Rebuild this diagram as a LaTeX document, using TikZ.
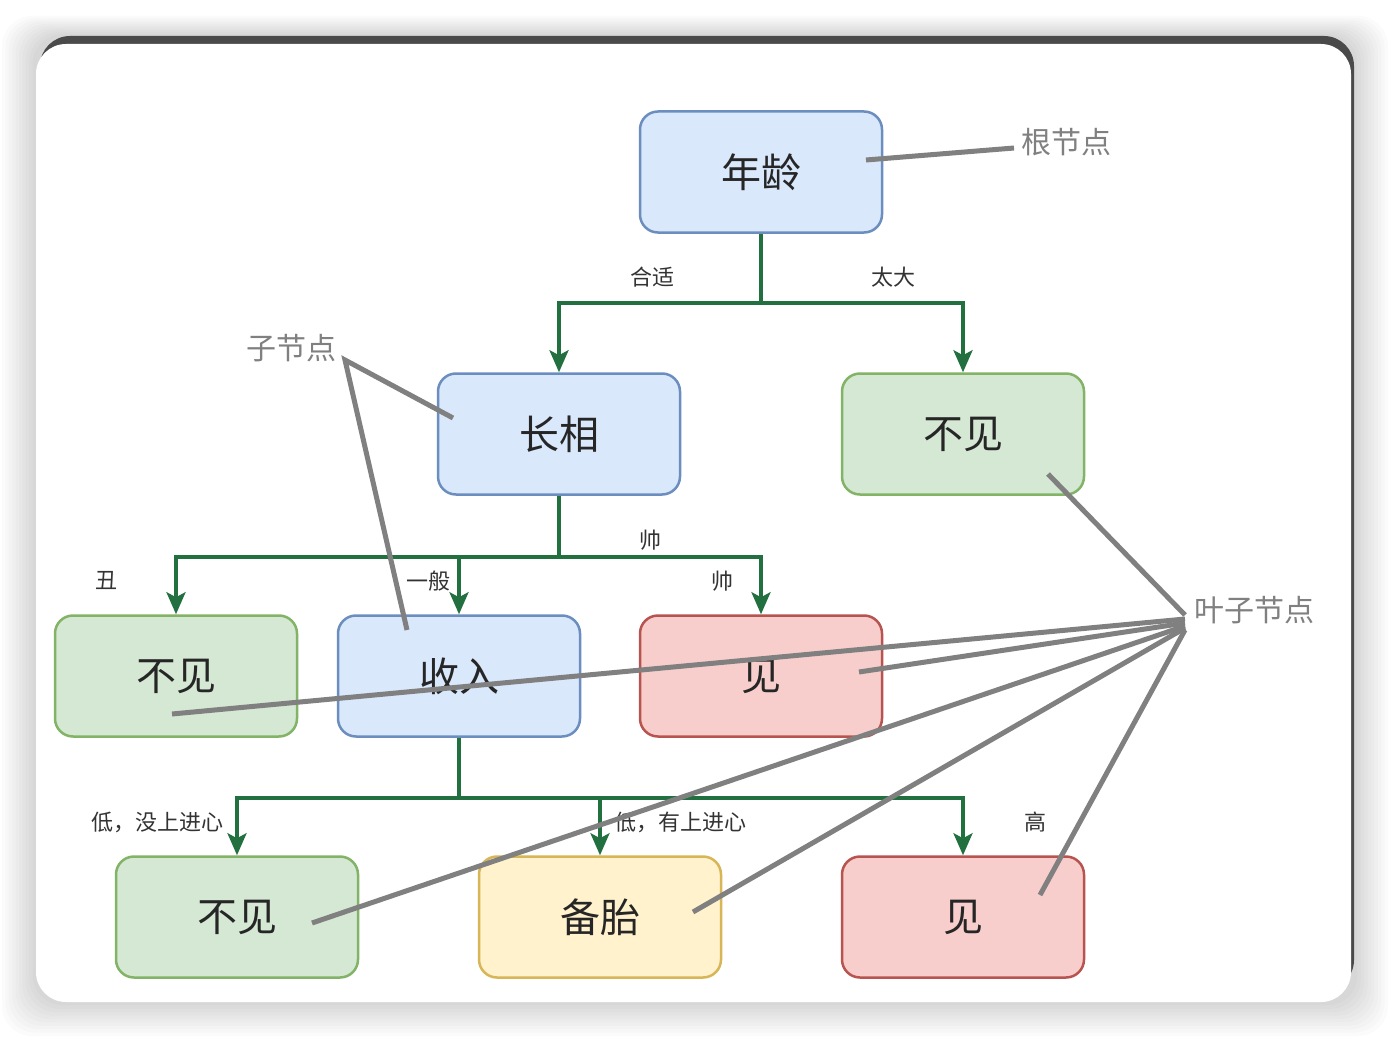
\documentclass[tikz,border=0pt]{standalone}
\usepackage{fontspec}
\setmainfont{Noto Sans CJK SC}
\usetikzlibrary{arrows.meta,calc}
\definecolor{bluefill}{HTML}{DAE8FC}
\definecolor{bluedraw}{HTML}{6C8EBF}
\definecolor{greenfill}{HTML}{D5E8D4}
\definecolor{greendraw}{HTML}{82B366}
\definecolor{redfill}{HTML}{F8CECC}
\definecolor{reddraw}{HTML}{B85450}
\definecolor{yellowfill}{HTML}{FFF2CC}
\definecolor{yellowdraw}{HTML}{D6B656}
\definecolor{treegreen}{HTML}{22703F}
\definecolor{annogray}{HTML}{808080}
\definecolor{labeltext}{HTML}{333333}
\definecolor{topbar}{HTML}{4A4A4A}
\tikzset{
  box/.style={rectangle, rounded corners=18pt, line width=2.5pt, minimum width=242pt, minimum height=121pt, font=\fontsize{40}{44}\selectfont, text=black!85, inner sep=0pt},
  bluebox/.style={box, fill=bluefill, draw=bluedraw},
  greenbox/.style={box, fill=greenfill, draw=greendraw},
  redbox/.style={box, fill=redfill, draw=reddraw},
  yellowbox/.style={box, fill=yellowfill, draw=yellowdraw},
  tree/.style={draw=treegreen, line width=3.5pt, -{Stealth[length=22pt,width=19pt,inset=5pt]}},
  elabel/.style={font=\fontsize{22}{24}\selectfont, text=labeltext, inner sep=0pt},
  anno/.style={font=\fontsize{30}{34}\selectfont, text=annogray, inner sep=0pt},
  annoline/.style={draw=annogray, line width=5pt}
}
\begin{document}
\begin{tikzpicture}[x=1pt,y=-1pt]
\useasboundingbox (0,0) rectangle (1390,1038);
\fill[white] (0,0) rectangle (1390,1038);
% shadow
\foreach \i in {1,...,10}{
  \fill[black, opacity=0.016, rounded corners=30pt] (36-3.4*\i,36-2*\i) rectangle (1354+3.4*\i,1002+3.4*\i);
}
% card
\fill[topbar, rounded corners=30pt] (40,36) rectangle (1354,990);
\fill[white, rounded corners=30pt] (36,44) rectangle (1351,1002);

% nodes
\node[bluebox] (age) at (761,172) {年龄};
\node[bluebox] (look) at (559,434) {长相};
\node[greenbox] (no1) at (963,434) {不见};
\node[greenbox] (no2) at (176,676) {不见};
\node[bluebox] (inc) at (459,676) {收入};
\node[redbox] (yes1) at (761,676) {见};
\node[greenbox] (no3) at (237,917) {不见};
\node[yellowbox] (bt) at (600,917) {备胎};
\node[redbox] (yes2) at (963,917) {见};

% tree edges
\draw[tree] (age.south) -- ++(0,69) -| (look.north);
\draw[tree] (age.south) -- ++(0,69) -| (no1.north);
\draw[tree] (look.south) -- ++(0,61) -| (no2.north);
\draw[tree] (look.south) -- ++(0,61) -| (inc.north);
\draw[tree] (look.south) -- ++(0,61) -| (yes1.north);
\draw[tree] (inc.south) -- ++(0,60) -| (no3.north);
\draw[tree] (inc.south) -- ++(0,60) -| (bt.north);
\draw[tree] (inc.south) -- ++(0,60) -| (yes2.north);

% edge labels
\node[elabel] (l1) at (652,277) {合适};
\node[elabel] (l2) at (893,277) {太大};
\node[elabel] (l3) at (650,540) {帅};
\node[elabel] (l4) at (106,581) {丑};
\node[elabel] (l5) at (428,581) {一般};
\node[elabel] (l6) at (722,581) {帅};
\node[elabel] (l7) at (157,822) {低，没上进心};
\node[elabel] (l8) at (680,822) {低，有上进心};
\node[elabel] (l9) at (1035,822) {高};

% annotations
\node[anno] (root) at (1066,142) {根节点};
\node[anno] (child) at (291,348) {子节点};
\node[anno] (leaf) at (1254,610) {叶子节点};

\coordinate (rootend) at (1014,148);
\coordinate (agept) at (866,160);
\coordinate (childhub) at (345,360);
\coordinate (lookpt) at (453,418);
\coordinate (incpt) at (407,630);
\coordinate (leafhub) at (1185,615);
\coordinate (no1pt) at (1048,474);
\coordinate (no2pt) at (172,714);
\coordinate (yes1pt) at (859,672);
\coordinate (no3pt) at (312,923);
\coordinate (btpt) at (693,912);
\coordinate (yes2pt) at (1040,895);

\draw[annoline] (agept) -- (rootend);
\draw[annoline, line join=miter] (lookpt) -- (childhub) -- (incpt);
\draw[annoline] (no1pt) -- (leafhub);
\draw[annoline] (no2pt) -- ($(leafhub)+(0,4)$);
\draw[annoline] (yes1pt) -- ($(leafhub)+(0,8)$);
\draw[annoline] (no3pt) -- ($(leafhub)+(0,11)$);
\draw[annoline] (btpt) -- ($(leafhub)+(0,13)$);
\draw[annoline] (yes2pt) -- ($(leafhub)+(0,15)$);
\end{tikzpicture}
\end{document}
